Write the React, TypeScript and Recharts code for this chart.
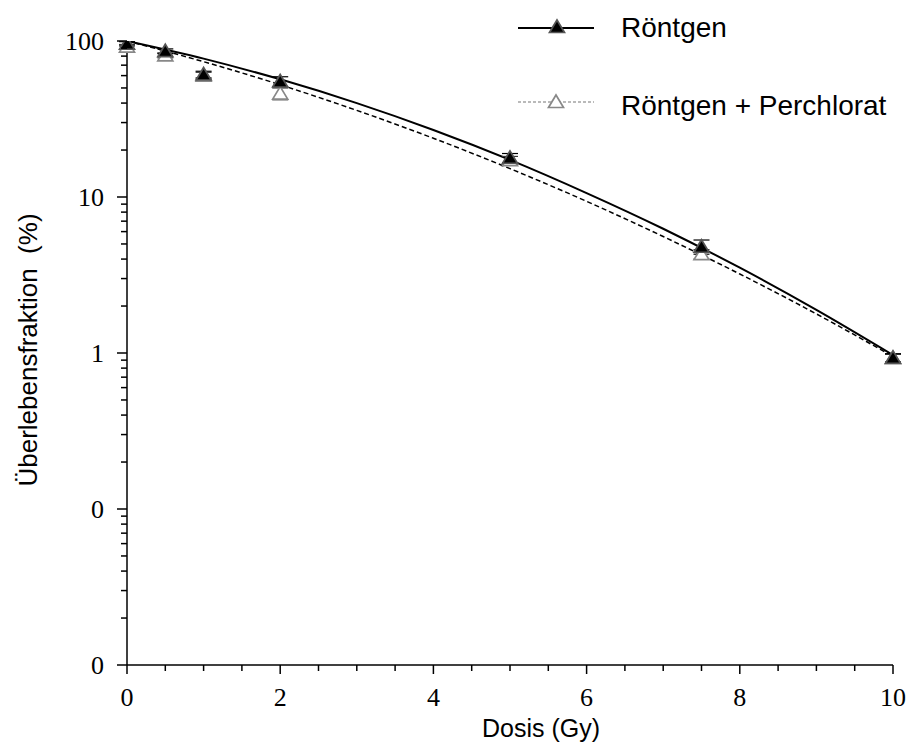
import React from "react";
import {
  ComposedChart,
  Line,
  Scatter,
  XAxis,
  YAxis,
  ErrorBar,
  Customized,
} from "recharts";

// measured points (dose in Gy, survival in %)
const doses = [0, 0.5, 1, 2, 5, 7.5, 10];
const roentgen = [96, 86, 61, 55, 17.8, 4.8, 0.93];
const roentgenErr = [3, 3, 3, 4, 1.2, 0.5, 0.06];
const perchlorat = [92, 81, 60, 46, 17.2, 4.3, 0.93];
const perchloratErr = [3, 3, 3, 4, 1.0, 0.3, 0.05];

// fitted curves
const fitDoses = [0, 1, 2, 3, 4, 5, 6, 7, 8, 9, 10];
const fitRoentgen = [100, 77.1, 56.8, 40.0, 26.9, 17.3, 10.6, 6.26, 3.52, 1.89, 0.97];
const fitPerchlorat = [100, 73.7, 52.4, 35.9, 23.8, 15.2, 9.38, 5.58, 3.21, 1.78, 0.95];

const xTicks = [0, 0.5, 1, 1.5, 2, 2.5, 3, 3.5, 4, 4.5, 5, 5.5, 6, 6.5, 7, 7.5, 8, 8.5, 9, 9.5, 10];
const xLabels = ["0", "2", "4", "6", "8", "10"];
const yMajor = [0.01, 0.1, 1, 10, 100];
const yLabels = ["0", "0", "1", "10", "100"];
const yMinor = [2, 3, 4, 5, 6, 7, 8, 9];

const yTicks = yMajor.flatMap((d, i) =>
  i < yMajor.length - 1 ? [d, ...yMinor.map((m) => +(m * d).toPrecision(3))] : [d]
);

const pts = (ys: number[], errs: number[]) =>
  doses.map((x, i) => ({ x, y: ys[i], err: errs[i] }));
const fit = (ys: number[]) => fitDoses.map((x, i) => ({ x, y: ys[i] }));

const serif = "'Liberation Serif', 'Times New Roman', serif";
const sans = "'Liberation Sans', Arial, sans-serif";

const XTick = (props: any) => {
  const { x, y, payload } = props;
  const v = payload.value;
  const major = v % 2 === 0;
  return (
    <g>
      <line x1={x} x2={x} y1={y} y2={y + (major ? 9 : 6)} stroke="#000" strokeWidth={1.5} />
      {major && (
        <text x={x} y={y + 41} textAnchor="middle" fontFamily={serif} fontSize={26} fill="#000">
          {xLabels[v / 2]}
        </text>
      )}
    </g>
  );
};

const YTick = (props: any) => {
  const { x, y, payload } = props;
  const idx = yMajor.indexOf(payload.value);
  const major = idx >= 0;
  return (
    <g>
      <line x1={x - (major ? 10 : 6)} x2={x} y1={y} y2={y} stroke="#000" strokeWidth={1.5} />
      {major && (
        <text x={x - 23} y={y + 9} textAnchor="end" fontFamily={serif} fontSize={26} fill="#000">
          {yLabels[idx]}
        </text>
      )}
    </g>
  );
};

const Tri = ({ cx, cy, filled }: any) => (
  <path
    d={`M${cx},${cy - 7} L${cx + 7.5},${cy + 5.5} L${cx - 7.5},${cy + 5.5} Z`}
    fill={filled ? "#000" : "#fff"}
    stroke={filled ? "#555" : "#888"}
    strokeWidth={1.7}
  />
);

const Extras = () => (
  <g>
    {/* legend */}
    <line x1={518} x2={594} y1={28} y2={28} stroke="#000" strokeWidth={1.8} />
    <Tri cx={557} cy={27} filled />
    <text x={621} y={37} fontFamily={sans} fontSize={28} fill="#000">Röntgen</text>
    <line x1={518} x2={594} y1={102} y2={102} stroke="#777" strokeWidth={1.2} strokeDasharray="3 2" />
    <Tri cx={556} cy={102} />
    <text x={621} y={115} fontFamily={sans} fontSize={28} fill="#000">Röntgen + Perchlorat</text>
    {/* axis titles */}
    <text x={541} y={737} textAnchor="middle" fontFamily={sans} fontSize={25} fill="#000">Dosis (Gy)</text>
    <text
      transform="translate(37,350) rotate(-90)"
      textAnchor="middle"
      fontFamily={sans}
      fontSize={26}
      fill="#000"
      xmlSpace="preserve"
    >
      Überlebensfraktion  (%)
    </text>
  </g>
);

export default function App() {
  return (
    <div style={{ position: "absolute", left: 0, top: 0, width: 921, height: 744, background: "#fff" }}>
      <ComposedChart width={921} height={744} margin={{ top: 41, right: 28, left: 67, bottom: 14 }}>
        <XAxis
          type="number"
          dataKey="x"
          domain={[0, 10]}
          ticks={xTicks}
          interval={0}
          tickSize={0}
          tickMargin={0}
          tick={XTick}
          height={65}
          axisLine={{ stroke: "#000", strokeWidth: 1.5 }}
        />
        <YAxis
          type="number"
          dataKey="y"
          scale="log"
          domain={[0.01, 100]}
          allowDataOverflow
          ticks={yTicks}
          interval={0}
          tickSize={0}
          tickMargin={0}
          tick={YTick}
          width={60}
          axisLine={{ stroke: "#000", strokeWidth: 1.5 }}
        />
        <Line
          data={fit(fitPerchlorat)}
          dataKey="y"
          type="monotone"
          stroke="#000"
          strokeWidth={1.5}
          strokeDasharray="5 3"
          dot={false}
          isAnimationActive={false}
        />
        <Line
          data={fit(fitRoentgen)}
          dataKey="y"
          type="monotone"
          stroke="#000"
          strokeWidth={2}
          dot={false}
          isAnimationActive={false}
        />
        <Scatter
          data={pts(perchlorat, perchloratErr)}
          dataKey="y"
          shape={(p: any) => <Tri cx={p.cx} cy={p.cy} />}
          isAnimationActive={false}
        >
          <ErrorBar dataKey="err" direction="y" width={8} stroke="#333" strokeWidth={1.2} />
        </Scatter>
        <Scatter
          data={pts(roentgen, roentgenErr)}
          dataKey="y"
          shape={(p: any) => <Tri cx={p.cx} cy={p.cy} filled />}
          isAnimationActive={false}
        >
          <ErrorBar dataKey="err" direction="y" width={8} stroke="#000" strokeWidth={1.2} />
        </Scatter>
        <Customized component={Extras} />
      </ComposedChart>
    </div>
  );
}
